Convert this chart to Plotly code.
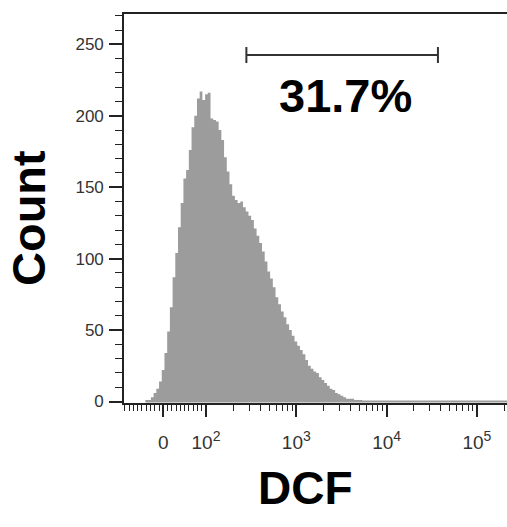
import numpy as np
import plotly.graph_objects as go

# ---- data (histogram counts per display channel, logicle-like DCF scale) ----
bin_start = 1.33      # display units (decades) of first bin edge
bin_width = 0.03      # display units per bin
counts = [1, 1, 3, 6, 9, 14, 22, 34, 49, 66,
          87, 104, 122, 139, 156, 162, 176, 192, 200, 212,
          217, 211, 215, 216, 198, 197, 196, 190, 183, 171,
          161, 152, 144, 141, 139, 140, 136, 133, 130, 127,
          121, 116, 111, 105, 98, 91, 86, 80, 73, 68,
          63, 59, 54, 50, 46, 42, 39, 36, 33, 29,
          25, 23, 21, 20, 17, 15, 13, 11, 9, 8,
          6, 5, 4, 3, 2, 2, 2, 1, 1, 1]

major_tick_values = [0, 1e2, 1e3, 1e4, 1e5]
major_tick_exponents = [None, 2, 3, 4, 5]
gate_low, gate_high = 280, 37000
gate_count_level = 242.5
gate_label = "31.7%"

# ---- logicle-like display transform ----
D0 = 1.527
def disp(v):
    v = np.asarray(v, dtype=float)
    return np.where(v >= 100, np.log10(np.maximum(v, 100)), D0 + v * (2 - D0) / 100)

minor_vals = list(range(-90, 0, 10)) + list(range(10, 100, 10))
for k in (2, 3, 4):
    minor_vals += [m * 10 ** k for m in range(2, 10)]
minor_vals += [2e5]

major_tick_labels = ["0" if e is None else
                     "10<sup><span style='font-size:14px'>%d</span></sup>" % e
                     for e in major_tick_exponents]

edges = bin_start + bin_width * np.arange(len(counts) + 1)
ys = counts + [counts[-1]]

GREY = "#9c9c9c"
AX = "#222222"
FONT = "Liberation Sans, Arial, sans-serif"

fig = go.Figure()
fig.add_trace(go.Scatter(x=edges, y=ys, mode="lines", line=dict(shape="hv", color=GREY, width=0),
                         fill="tozeroy", fillcolor=GREY, hoverinfo="skip", showlegend=False))

xr = [1.092, 5.333]
fig.update_layout(
    width=507, height=527,
    margin=dict(l=124, r=0, t=14, b=124),
    plot_bgcolor="white", paper_bgcolor="white",
    font=dict(family=FONT, color="#333333", size=17),
    xaxis=dict(range=xr, showgrid=False, zeroline=False, showline=True, linecolor=AX, linewidth=1.6,
               mirror=True, ticks="outside", ticklen=12, tickwidth=1.6, tickcolor=AX,
               tickmode="array", tickvals=disp(major_tick_values), ticktext=major_tick_labels,
               tickfont=dict(size=19, family=FONT, color="#333333"), ticklabelstandoff=9,
               minor=dict(tickmode="array", tickvals=disp(minor_vals), ticks="outside",
                          ticklen=6, tickwidth=1.2, tickcolor=AX)),
    yaxis=dict(range=[-1.05, 271.2], showgrid=False, zeroline=False, showline=True, linecolor=AX,
               linewidth=1.6, ticks="outside", ticklen=13, tickwidth=1.6, tickcolor=AX,
               tickmode="linear", tick0=0, dtick=50,
               tickfont=dict(size=17, family=FONT, color="#333333"), ticklabelstandoff=2,
               minor=dict(tick0=0, dtick=10, ticks="outside", ticklen=7, tickwidth=1.2, tickcolor=AX)),
)

# baseline of histogram
fig.add_shape(type="line", xref="x", yref="y", x0=edges[0], x1=xr[1], y0=0, y1=0,
              line=dict(color=GREY, width=2))

# gate
g0, g1 = float(disp(gate_low)), float(disp(gate_high))
cap = 5.6
fig.add_shape(type="line", xref="x", yref="y", x0=g0, x1=g1, y0=gate_count_level, y1=gate_count_level,
              line=dict(color="#333333", width=2))
for gx in (g0, g1):
    fig.add_shape(type="line", xref="x", yref="y", x0=gx, x1=gx,
                  y0=gate_count_level - cap, y1=gate_count_level + cap,
                  line=dict(color="#333333", width=2))

fig.add_annotation(x=3.54, y=214.5, xref="x", yref="y", text="<b>" + gate_label + "</b>",
                   showarrow=False, font=dict(size=47, family=FONT, color="#000000"),
                   xanchor="center", yanchor="middle")
fig.add_annotation(x=-0.248, y=0.4756, xref="paper", yref="paper", text="<b>Count</b>",
                   textangle=-90, showarrow=False, font=dict(size=47, family=FONT, color="#000000"),
                   xanchor="center", yanchor="middle")
fig.add_annotation(x=0.475, y=-0.2185, xref="paper", yref="paper", text="<b>DCF</b>",
                   showarrow=False, font=dict(size=46, family=FONT, color="#000000"),
                   xanchor="center", yanchor="middle")

fig.write_html("out.html")
